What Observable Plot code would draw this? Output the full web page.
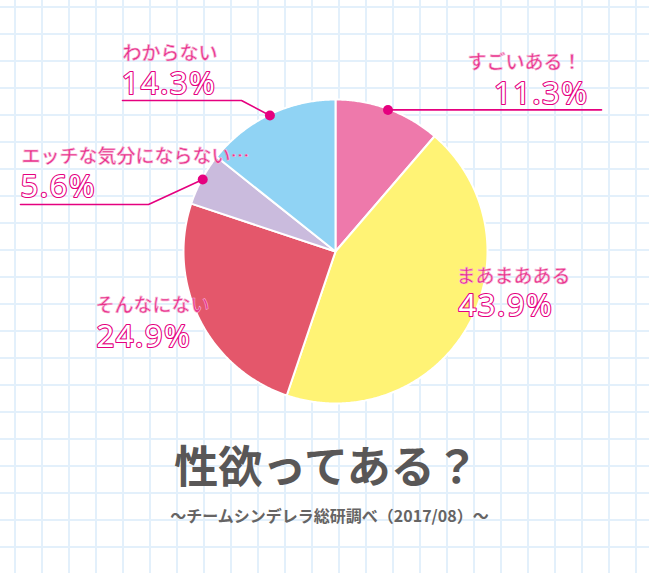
<!DOCTYPE html>
<html><head><meta charset="utf-8">
<script src="https://cdn.jsdelivr.net/npm/d3@7"></script>
<script src="https://cdn.jsdelivr.net/npm/@observablehq/plot@0.6"></script>
<style>
html,body{margin:0;padding:0;}
body{width:649px;height:573px;overflow:hidden;background-color:#fff;
background-image:linear-gradient(to right,#e3f0fb 2px,transparent 2px),linear-gradient(to bottom,#e3f0fb 2px,transparent 2px);
background-size:27px 27px;background-position:14px 6px;}
.pct text, text.pct{letter-spacing:1.5px;}
</style></head><body><div id="chart"></div>
<script>
// ---- data ----
const categories = ["すごいある！", "まあまあある", "そんなにない", "エッチな気分にならない…", "わからない"];
const values = [11.3, 43.9, 24.9, 5.6, 14.3];
const colors = ["#ee79ab", "#fff375", "#e4576b", "#cabbdd", "#90d3f4"];
const title = "性欲ってある？";
const subtitle = "〜チームシンデレラ総研調べ（2017/08）〜";

// ---- layout (pixels) ----
const W = 649, H = 573;
const pie = {cx: 335, cy: 251, r: 152};
const MAG = "#e5007f";
// label placement per category index
const labelLayout = [
  {x: 581, y: 62, px: 588, py: 94, anchor: "end", leader: [[601, null]]},
  {x: 456, y: 276, px: 458, py: 306, anchor: "start", leader: null},
  {x: 95, y: 305, px: 96, py: 337, anchor: "start", leader: null},
  {x: 21, y: 156, px: 20, py: 187, anchor: "start", leader: [[148, 204], [20, 204]]},
  {x: 122, y: 53, px: 121, py: 84, anchor: "start", leader: [[241, 100], [122, 100]]}
];

// ---- geometry from data ----
const arcs = d3.pie().sort(null).value(d => d)(values);
const pt = (a, r) => [pie.cx + r * Math.sin(a), pie.cy - r * Math.cos(a)];
const slicePts = [];
arcs.forEach((a, i) => {
  const cat = categories[i];
  slicePts.push({cat, x: pie.cx, y: pie.cy});
  const n = Math.max(2, Math.ceil((a.endAngle - a.startAngle) / (Math.PI / 360)));
  for (let k = 0; k <= n; k++) {
    const ang = a.startAngle + (a.endAngle - a.startAngle) * k / n;
    const [x, y] = pt(ang, pie.r);
    slicePts.push({cat, x, y});
  }
  slicePts.push({cat, x: pie.cx, y: pie.cy});
});

const dots = [];
const leaderPts = [];
arcs.forEach((a, i) => {
  const L = labelLayout[i];
  if (!L.leader) return;
  const mid = (a.startAngle + a.endAngle) / 2;
  const [dx, dy] = pt(mid, pie.r - 1);
  dots.push({x: dx, y: dy});
  leaderPts.push({k: i, x: dx, y: dy});
  L.leader.forEach(([lx, ly]) => leaderPts.push({k: i, x: lx, y: ly == null ? dy : ly}));
});

const labels = categories.map((c, i) => ({text: c, ...labelLayout[i]}));
const pcts = values.map((v, i) => ({text: v.toFixed(1) + "%", ...labelLayout[i]}));

const labelStyle = {x: "x", y: "y", text: "text", lineAnchor: "middle",
  fontSize: 19, fontWeight: 500, fontFamily: "'Noto Sans CJK JP', sans-serif", fill: "#e8308a",
  stroke: "#f7b6d6", strokeWidth: 0.6, paintOrder: "normal"};
const pctStyle = {x: "px", y: "py", text: "text", lineAnchor: "middle", className: "pct",
  fontSize: 31, fontWeight: 400, fontFamily: "'Noto Sans', sans-serif", fill: "white",
  stroke: MAG, strokeWidth: 2.2, paintOrder: "stroke"};

const chart = Plot.plot({
  width: W, height: H, margin: 0,
  style: {background: "transparent", overflow: "visible"},
  x: {domain: [0, W], range: [0, W], axis: null},
  y: {domain: [0, H], range: [0, H], axis: null},
  color: {domain: categories, range: colors},
  marks: [
    Plot.line(slicePts, {x: "x", y: "y", z: "cat", fill: "cat", stroke: "white", strokeWidth: 2, strokeLinejoin: "round"}),
    Plot.line(leaderPts, {x: "x", y: "y", z: "k", stroke: MAG, strokeWidth: 1.6}),
    Plot.dot(dots, {x: "x", y: "y", r: 5, fill: MAG}),
    Plot.text(labels.filter(d => d.anchor === "start"), {...labelStyle, textAnchor: "start"}),
    Plot.text(labels.filter(d => d.anchor === "end"), {...labelStyle, textAnchor: "end"}),
    Plot.text(pcts.filter(d => d.anchor === "start"), {...pctStyle, textAnchor: "start"}),
    Plot.text(pcts.filter(d => d.anchor === "end"), {...pctStyle, textAnchor: "end"}),
    Plot.text([title], {x: () => 326, y: () => 468, text: d => d, lineAnchor: "middle",
      fontSize: 44, fontWeight: 700, fontFamily: "'Noto Sans CJK JP', sans-serif", fill: "#595757"}),
    Plot.text([subtitle], {x: () => 329, y: () => 516, text: d => d, lineAnchor: "middle",
      fontSize: 16, fontWeight: 700, fontFamily: "'Noto Sans CJK JP', sans-serif", fill: "#666464"})
  ]
});
document.getElementById("chart").appendChild(chart);
</script>
</body></html>
